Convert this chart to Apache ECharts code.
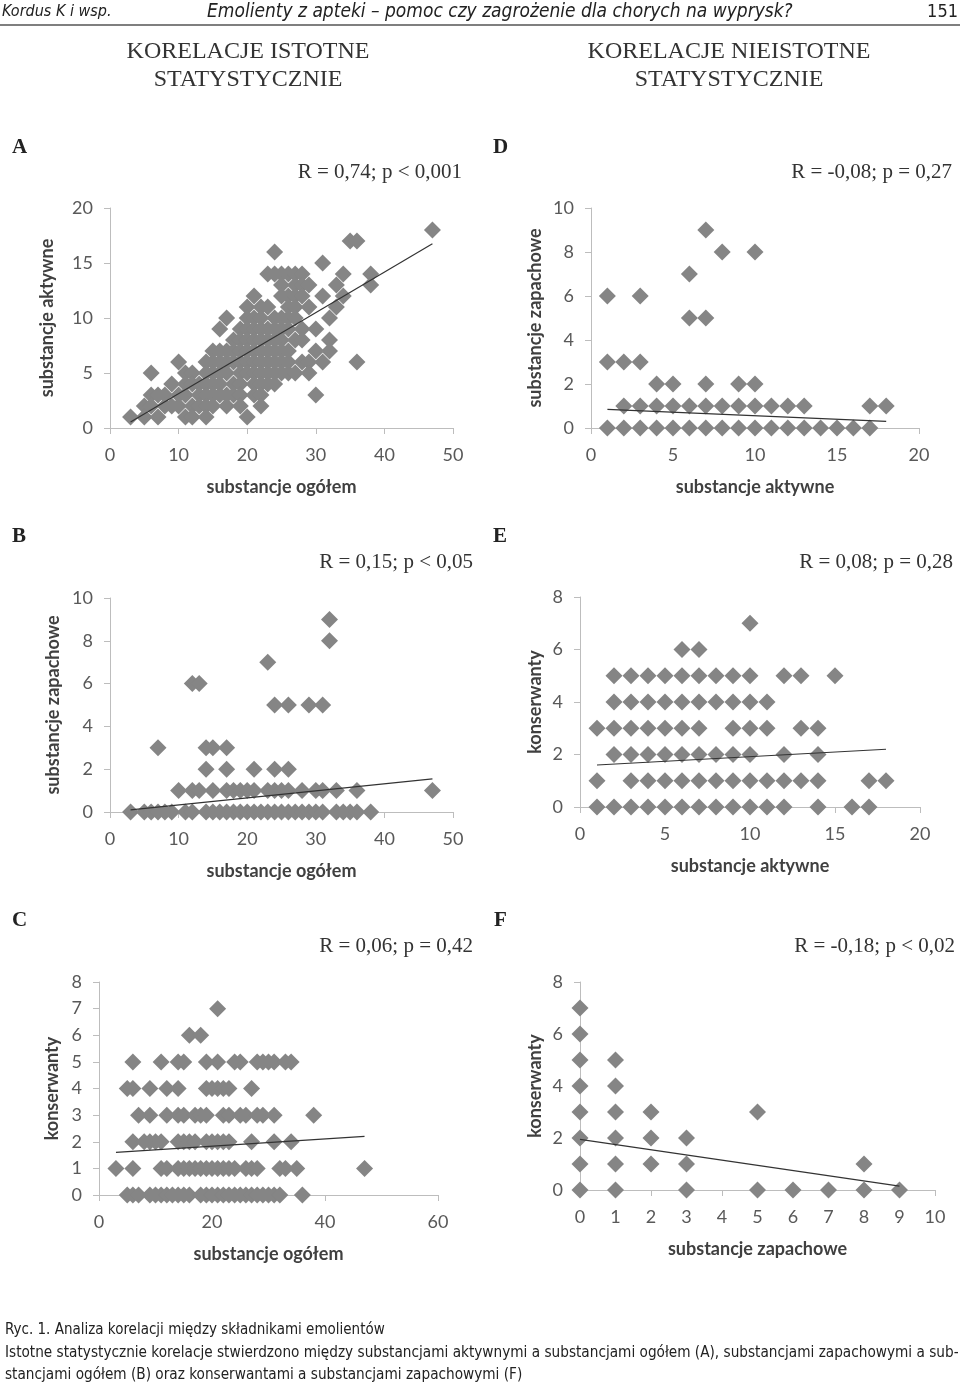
<!DOCTYPE html>
<html><head><meta charset="utf-8">
<script src="https://cdn.jsdelivr.net/npm/echarts@6/dist/echarts.min.js"></script>
<style>html,body{margin:0;padding:0;background:#fff}#c{width:960px;height:1385px}</style>
</head><body><div id="c"></div>
<script>
// ---------- DATA (rows: [y, [x values]]) ----------
const rowsA = [
  [18,[47]],[17,[35,36]],[16,[24]],[15,[31]],
  [14,[23,24,25,26,27,28,34,38]],
  [13,[25,27,28,29,33,38]],
  [12,[21,25,26,27,28,31,34]],
  [11,[20,22,23,26,27,29,33]],
  [10,[17,20,21,22,24,25,26,27,32]],
  [9,[16,19,20,21,22,23,24,25,26,28,30]],
  [8,[18,19,20,21,22,23,24,25,27,28,32]],
  [7,[15,16,17,18,19,20,21,22,23,24,25,26,30,32]],
  [6,[10,14,15,16,17,18,19,20,21,22,23,24,25,26,28,29,31,36]],
  [5,[6,11,12,14,15,16,17,19,20,21,22,23,24,25,26,27,29]],
  [4,[9,11,12,13,14,15,16,18,19,21,22,23,24]],
  [3,[6,7,8,10,11,13,14,15,16,17,18,19,21,22,30]],
  [2,[5,6,8,9,10,12,13,14,15,17,19,22]],
  [1,[3,5,7,11,12,14,20]]
];
const rowsB = [
  [9,[32]],[8,[32]],[7,[23]],[6,[12,13]],[5,[24,26,29,31]],
  [3,[7,14,15,17]],[2,[14,17,21,24,26]],
  [1,[10,12,13,15,17,18,19,20,21,23,24,25,26,28,30,31,33,36,47]],
  [0,[3,5,6,7,8,9,11,12,14,15,16,17,18,19,20,21,22,23,24,25,26,27,28,29,30,31,33,34,35,36,38]]
];
const rowsC = [
  [7,[21]],[6,[16,18]],
  [5,[6,11,14,15,19,21,24,25,28,29,30,31,33,34]],
  [4,[5,6,9,12,14,19,20,21,22,23,27]],
  [3,[7,9,12,14,15,17,18,19,22,23,25,26,28,29,31,38]],
  [2,[6,8,9,10,11,14,15,16,17,19,20,21,22,23,27,31,34]],
  [1,[3,6,11,12,14,15,16,17,18,19,20,21,22,23,24,26,27,28,32,33,35,47]],
  [0,[5,6,7,9,10,11,12,13,14,15,16,18,19,20,21,22,23,24,25,26,27,28,29,30,31,32,36]]
];
const rowsD = [
  [9,[7]],[8,[8,10]],[7,[6]],[6,[1,3]],[5,[6,7]],[3,[1,2,3]],[2,[4,5,7,9,10]],
  [1,[2,3,4,5,6,7,8,9,10,11,12,13,17,18]],
  [0,[1,2,3,4,5,6,7,8,9,10,11,12,13,14,15,16,17]]
];
const rowsE = [
  [7,[10]],[6,[6,7]],
  [5,[2,3,4,5,6,7,8,9,10,12,13,15]],
  [4,[2,3,4,5,6,7,8,9,10,11]],
  [3,[1,2,3,4,5,6,7,9,10,11,13,14]],
  [2,[2,3,4,5,6,7,8,9,10,12,14]],
  [1,[1,3,4,5,6,7,8,9,10,11,12,13,14,17,18]],
  [0,[1,2,3,4,5,6,7,8,9,10,11,12,14,16,17]]
];
const rowsF = [
  [7,[0]],[6,[0]],[5,[0,1]],[4,[0,1]],[3,[0,1,2,5]],[2,[0,1,2,3]],
  [1,[0,1,2,3,8]],[0,[0,1,3,5,6,7,8,9]]
];
// regression line end points
const trendA = [[3,0.55],[47,16.75]];
const trendB = [[3,0.1],[47,1.55]];
const trendC = [[3,1.6],[47,2.2]];
const trendD = [[1,0.85],[18,0.3]];
const trendE = [[1,1.6],[18,2.2]];
const trendF = [[0,1.95],[9,0.15]];
// axis ranges [min, max, interval]
const xAxisA = [0,50,10], yAxisA = [0,20,5];
const xAxisB = [0,50,10], yAxisB = [0,10,2];
const xAxisC = [0,60,20], yAxisC = [0,8,1];
const xAxisD = [0,20,5],  yAxisD = [0,10,2];
const xAxisE = [0,20,5],  yAxisE = [0,8,2];
const xAxisF = [0,10,1],  yAxisF = [0,8,2];
const statsText = ['R = 0,74; p < 0,001','R = 0,15; p < 0,05','R = 0,06; p = 0,42',
                   'R = -0,08; p = 0,27','R = 0,08; p = 0,28','R = -0,18; p < 0,02'];
const panelLetters = ['A','B','C','D','E','F'];
const xNames = ['substancje ogółem','substancje ogółem','substancje ogółem','substancje aktywne','substancje aktywne','substancje zapachowe'];
const yNames = ['substancje aktywne','substancje zapachowe','konserwanty','substancje zapachowe','konserwanty','konserwanty'];

// ---------- LAYOUT ----------
const expand = rows => rows.flatMap(([y, xs]) => xs.map(x => [x, y]));
const panels = [
  {rows: rowsA, trend: trendA, xa: xAxisA, ya: yAxisA, grid:{left:110,top:208,width:343,height:220}, yGap:54},
  {rows: rowsB, trend: trendB, xa: xAxisB, ya: yAxisB, grid:{left:110,top:598,width:343,height:214}, yGap:48},
  {rows: rowsC, trend: trendC, xa: xAxisC, ya: yAxisC, grid:{left:99,top:982,width:339,height:213}, yGap:38},
  {rows: rowsD, trend: trendD, xa: xAxisD, ya: yAxisD, grid:{left:591,top:208,width:328,height:220}, yGap:47},
  {rows: rowsE, trend: trendE, xa: xAxisE, ya: yAxisE, grid:{left:580,top:597,width:340,height:210}, yGap:36},
  {rows: rowsF, trend: trendF, xa: xAxisF, ya: yAxisF, grid:{left:580,top:982,width:355,height:208}, yGap:36}
];
const FONT = 'Lato, "Open Sans", sans-serif';
const axisLine = {show:true, lineStyle:{color:'#bdbdbd', width:1}};
const axisTick = {show:true, length:6, lineStyle:{color:'#bdbdbd'}};
const labelStyle = {color:'#595959', fontSize:18, fontFamily:FONT};
const nameStyle = {color:'#404040', fontSize:18, fontWeight:'bold', fontFamily:FONT};

const grids = [], xAxes = [], yAxes = [], series = [];
panels.forEach((p, i) => {
  grids.push(Object.assign({containLabel:false}, p.grid));
  xAxes.push({type:'value', gridIndex:i, min:p.xa[0], max:p.xa[1], interval:p.xa[2],
    axisLine, axisTick, splitLine:{show:false},
    axisLabel:Object.assign({margin:18}, labelStyle),
    name:xNames[i], nameLocation:'middle', nameGap:50, nameTextStyle:nameStyle});
  yAxes.push({type:'value', gridIndex:i, min:p.ya[0], max:p.ya[1], interval:p.ya[2],
    axisLine, axisTick, splitLine:{show:false},
    axisLabel:Object.assign({margin:17}, labelStyle),
    name:yNames[i], nameLocation:'middle', nameGap:p.yGap, nameTextStyle:nameStyle});
  series.push({type:'scatter', xAxisIndex:i, yAxisIndex:i, data:expand(p.rows),
    symbol:'diamond', symbolSize:17, itemStyle:{color:'#858585', opacity:1}, z:2});
  series.push({type:'line', xAxisIndex:i, yAxisIndex:i, data:p.trend, symbol:'none',
    lineStyle:{color:'#333', width:1.2}, z:3, silent:true});
});

// ---------- TEXT ----------
const serif = '"Liberation Serif", "DejaVu Serif", serif';
const narrow = '"Liberation Sans Narrow", "DejaVu Sans Condensed", sans-serif';
function txt(text, x, y, font, align, fill) {
  return {type:'text', x, y, silent:true, style:{text, font, fill: fill || '#333',
    textAlign:align || 'left', align:align || 'left', textVerticalAlign:'middle', verticalAlign:'middle'}};
}
const graphics = [
  txt('Kordus K i wsp.', 2, 12, 'italic 16px ' + narrow, 'left', '#222'),
  txt('Emolienty z apteki – pomoc czy zagrożenie dla chorych na wyprysk?', 207, 12, 'italic 19px ' + narrow, 'left', '#222'),
  txt('151', 958, 12, '18px ' + narrow, 'right', '#222'),
  {type:'line', silent:true, shape:{x1:0,y1:25,x2:960,y2:25}, style:{stroke:'#555', lineWidth:1.5}},
  txt('KORELACJE ISTOTNE', 248, 52, '24px ' + serif, 'center', '#333'),
  txt('STATYSTYCZNIE', 248, 80, '24px ' + serif, 'center', '#333'),
  txt('KORELACJE NIEISTOTNE', 729, 52, '24px ' + serif, 'center', '#333'),
  txt('STATYSTYCZNIE', 729, 80, '24px ' + serif, 'center', '#333'),
];
const letterPos = [[12,148],[12,537],[12,921],[493,148],[493,537],[494,921]];
const statPos = [[462,172],[473,562],[473,946],[952,172],[953,562],[955,946]];
panelLetters.forEach((L, i) => {
  graphics.push(txt(L, letterPos[i][0], letterPos[i][1], 'bold 21px ' + serif, 'left', '#222'));
  graphics.push(txt(statsText[i], statPos[i][0], statPos[i][1], '21px ' + serif, 'right', '#333'));
});
graphics.push(txt('Ryc. 1. Analiza korelacji między składnikami emolientów', 5, 1330, '15px ' + narrow, 'left', '#222'));
graphics.push(txt('Istotne statystycznie korelacje stwierdzono między substancjami aktywnymi a substancjami ogółem (A), substancjami zapachowymi a sub-', 5, 1353, '15.2px ' + narrow, 'left', '#222'));
graphics.push(txt('stancjami ogółem (B) oraz konserwantami a substancjami zapachowymi (F)', 5, 1375, '15.2px ' + narrow, 'left', '#222'));

const chart = echarts.init(document.getElementById('c'), null, {renderer:'canvas'});
chart.setOption({
  backgroundColor:'#fff', animation:false,
  grid:grids, xAxis:xAxes, yAxis:yAxes, series, graphic:graphics
});
</script></body></html>
